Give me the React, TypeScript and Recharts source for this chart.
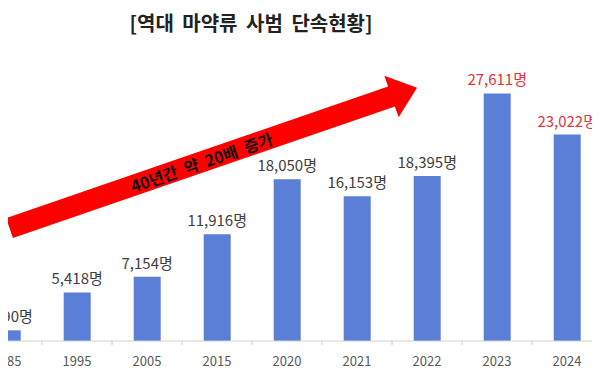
import { Bar, BarChart, LabelList, XAxis, YAxis } from "recharts";

const years = ["1985", "1995", "2005", "2015", "2020", "2021", "2022", "2023", "2024"];
const counts = [1190, 5418, 7154, 11916, 18050, 16153, 18395, 27611, 23022];
const redYears = ["2023", "2024"];

const FONT = '"Noto Sans CJK KR", "Noto Sans", sans-serif';

const data = years.map((y, i) => ({ year: y, count: counts[i] }));

function YearTick(props: any) {
  const { x, y, payload } = props;
  return (
    <g>
      {/* excel-style tick between categories */}
      <line x1={x + 35} x2={x + 35} y1={y - 8} y2={y - 4} stroke="#c8c8c8" />
      <text x={x} y={y + 17} textAnchor="middle" fontSize={13} fill="#595959" fontFamily={FONT}>
        {payload.value}
      </text>
    </g>
  );
}

function CountLabel(props: any) {
  const { x, y, width, value, index } = props;
  const red = redYears.includes(years[index]);
  return (
    <text
      x={x + width / 2}
      y={y - 8}
      textAnchor="middle"
      fontSize={15}
      fill={red ? "#e0333c" : "#404040"}
      fontFamily={FONT}
    >
      {`${Number(value).toLocaleString("en-US")}명`}
    </text>
  );
}

export default function App() {
  return (
    <div style={{ margin: -8 }}>
      <div
        style={{
          position: "relative",
          width: 600,
          height: 380,
          overflow: "hidden",
          background: "#fff",
        }}
      >
        <div
          style={{
            position: "absolute",
            left: 0,
            top: 8,
            width: 502,
            textAlign: "center",
            fontFamily: FONT,
            fontWeight: 700,
            fontSize: 20,
            wordSpacing: 4,
            color: "#222",
          }}
        >
          [역대 마약류 사범 단속현황]
        </div>
        <div style={{ position: "absolute", left: -28, top: 0 }}>
          <BarChart
            width={630}
            height={380}
            data={data}
            margin={{ top: 72, right: 0, bottom: 9, left: 0 }}
            barCategoryGap="31%"
          >
            <XAxis
              dataKey="year"
              height={30}
              axisLine={{ stroke: "#d0d0d0" }}
              tickLine={false}
              tick={<YearTick />}
              interval={0}
            />
            <YAxis hide domain={[0, 30000]} />
            <Bar dataKey="count" fill="#5b7fd6" isAnimationActive={false}>
              <LabelList dataKey="count" content={<CountLabel />} />
            </Bar>
          </BarChart>
        </div>
        <svg
          width={600}
          height={380}
          style={{ position: "absolute", left: 0, top: 0, pointerEvents: "none" }}
        >
          <g transform="translate(9.5,228) rotate(-19)">
            <polygon
              points="0,-10.5 404,-10.5 404,-22 431,0 404,22 404,10.5 0,10.5"
              fill="#ff0000"
            />
            <text
              x={203}
              y={0}
              dominantBaseline="central"
              textAnchor="middle"
              fontSize={16}
              fontWeight={700}
              wordSpacing={4}
              fill="#111"
              fontFamily={FONT}
            >
              40년간 약 20배 증가
            </text>
          </g>
        </svg>
      </div>
    </div>
  );
}
